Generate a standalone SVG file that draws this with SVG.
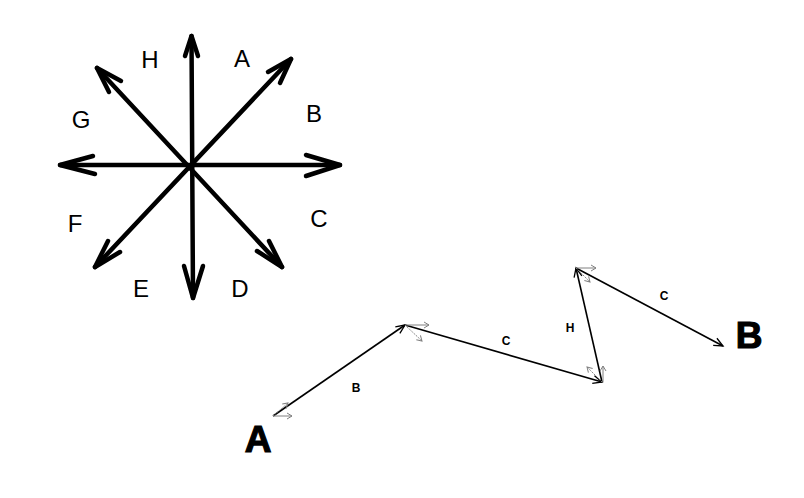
<svg xmlns="http://www.w3.org/2000/svg" width="804" height="498" viewBox="0 0 804 498">
<style>
.bg{fill:#fff}
.ax{fill:none;stroke:#000;stroke-width:4.5;stroke-linecap:round;stroke-linejoin:round}
.lbl{font-family:"Liberation Sans",Arial,sans-serif;font-size:24px;fill:#000;text-anchor:middle}
.seg{fill:none;stroke:#000;stroke-width:1.6;marker-end:url(#blk)}
.g{fill:none;stroke:#808080;stroke-width:1;marker-end:url(#gry)}
.gd{fill:none;stroke:#808080;stroke-width:1;stroke-dasharray:1.5 1;marker-end:url(#gry)}
.sl{font-family:"Liberation Sans",Arial,sans-serif;font-size:12px;font-weight:bold;fill:#000;text-anchor:middle}
.big{font-family:"Liberation Sans",Arial,sans-serif;font-size:37px;font-weight:bold;fill:#000;stroke:#000;stroke-width:1.2;text-anchor:middle}
</style>
<defs>
<marker id="blk" markerWidth="12" markerHeight="10" refX="10" refY="5" orient="auto" markerUnits="userSpaceOnUse">
<path d="M1,1 L10,5 L1,9" fill="none" stroke="#000" stroke-width="1.3"/>
</marker>
<marker id="gry" markerWidth="8" markerHeight="8" refX="7" refY="4" orient="auto" markerUnits="userSpaceOnUse">
<path d="M2,1 L7,4 L2,7" fill="none" stroke="#808080" stroke-width="1"/>
</marker>
</defs>
<rect class="bg" x="0" y="0" width="804" height="498"/>
<g id="compass">
<line class="ax" x1="191.5" y1="36" x2="193" y2="298"/>
<polyline class="ax" points="185,56 191.5,36 198,56"/>
<polyline class="ax" points="184,266 193,298 203,266"/>
<line class="ax" x1="60" y1="165" x2="340" y2="165"/>
<polyline class="ax" points="306,155 340,165 306,176"/>
<polyline class="ax" points="93,156 60,165 95,174"/>
<line class="ax" x1="95" y1="267" x2="291" y2="59"/>
<polyline class="ax" points="268,72 291,59 280,83"/>
<polyline class="ax" points="120,252 95,267 108,241"/>
<line class="ax" x1="97" y1="68" x2="282" y2="267"/>
<polyline class="ax" points="121,81 97,68 109,92"/>
<polyline class="ax" points="269,241 282,267 257,251"/>
</g>
<g id="compass-labels">
<text class="lbl" x="150" y="68">H</text>
<text class="lbl" x="242" y="67">A</text>
<text class="lbl" x="314" y="122">B</text>
<text class="lbl" x="81" y="128">G</text>
<text class="lbl" x="319" y="227">C</text>
<text class="lbl" x="75" y="232">F</text>
<text class="lbl" x="141" y="297">E</text>
<text class="lbl" x="240" y="297">D</text>
</g>
<g id="connectors">
<line class="seg" x1="273" y1="416" x2="405" y2="325"/>
<line class="seg" x1="405" y1="325" x2="602" y2="382"/>
<line class="seg" x1="602" y1="382" x2="576" y2="268"/>
<line class="seg" x1="576" y1="268" x2="723" y2="346"/>
</g>
<g id="guides">
<line class="g" x1="273" y1="416" x2="292" y2="416"/>
<line class="gd" x1="273" y1="416" x2="288" y2="403"/>
<line class="g" x1="405" y1="325" x2="429" y2="325"/>
<line class="gd" x1="405" y1="325" x2="422" y2="341"/>
<line class="g" x1="576" y1="268" x2="596" y2="268"/>
<line class="gd" x1="576" y1="268" x2="590" y2="282"/>
<line class="g" x1="603" y1="382" x2="603" y2="366"/>
<line class="gd" x1="602" y1="382" x2="587" y2="367"/>
</g>
<g id="segment-labels">
<text class="sl" x="356" y="392">B</text>
<text class="sl" x="506" y="345">C</text>
<text class="sl" x="570" y="332">H</text>
<text class="sl" x="664" y="300">C</text>
</g>
<g id="node-A"><text class="big" x="258" y="452">A</text></g>
<g id="node-B"><text class="big" x="749" y="348">B</text></g>
</svg>
